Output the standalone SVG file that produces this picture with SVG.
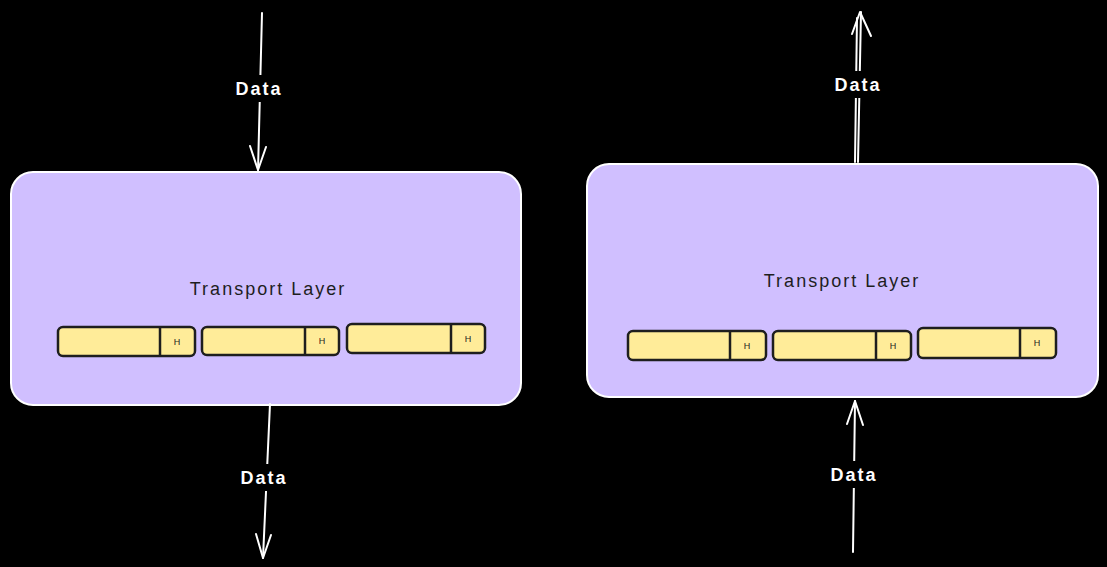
<svg xmlns="http://www.w3.org/2000/svg" width="1107" height="567" viewBox="0 0 1107 567">
<defs>
<style>
.layer{fill:#d0bfff;stroke:#ffffff;stroke-width:2}
.seg{fill:#ffec99;stroke:#1e1e1e;stroke-width:2.5}
.div{stroke:#1e1e1e;stroke-width:2.5}
.h{font-family:"Liberation Sans",sans-serif;font-size:9px;fill:#1e1e1e;text-anchor:middle}
.title{font-family:"Liberation Sans",sans-serif;font-size:18px;letter-spacing:2px;fill:#1e1e1e;text-anchor:middle}
.conn{stroke:#ffffff;stroke-width:2;fill:none;stroke-linecap:round;stroke-linejoin:round}
.lblbg{fill:#000000}
.lbl{font-family:"Liberation Sans",sans-serif;font-size:18px;font-weight:bold;letter-spacing:2px;fill:#ffffff;text-anchor:middle}
</style>
</defs>
<rect width="1107" height="567" fill="#000000"/>
<g id="layer-left">
<rect class="layer" x="11" y="172" width="510" height="233" rx="22"/>
<text class="title" x="268" y="295">Transport Layer</text>
</g>
<g id="seg-l1"><rect class="seg" x="58" y="327" width="137" height="29" rx="5"/><line class="div" x1="160" y1="327" x2="160" y2="356"/><text class="h" x="177" y="345">H</text></g>
<g id="seg-l2"><rect class="seg" x="202" y="327" width="137" height="28" rx="5"/><line class="div" x1="305" y1="327" x2="305" y2="355"/><text class="h" x="322" y="344">H</text></g>
<g id="seg-l3"><rect class="seg" x="347" y="324" width="138" height="29" rx="5"/><line class="div" x1="451" y1="324" x2="451" y2="353"/><text class="h" x="468" y="342">H</text></g>
<g id="layer-right">
<rect class="layer" x="587" y="164" width="511" height="233" rx="22"/>
<text class="title" x="842" y="287">Transport Layer</text>
</g>
<g id="seg-r1"><rect class="seg" x="628" y="331" width="138" height="29" rx="5"/><line class="div" x1="730" y1="331" x2="730" y2="360"/><text class="h" x="747" y="349">H</text></g>
<g id="seg-r2"><rect class="seg" x="773" y="331" width="138" height="29" rx="5"/><line class="div" x1="876" y1="331" x2="876" y2="360"/><text class="h" x="893" y="349">H</text></g>
<g id="seg-r3"><rect class="seg" x="918" y="328" width="138" height="30" rx="5"/><line class="div" x1="1020" y1="328" x2="1020" y2="358"/><text class="h" x="1037" y="346">H</text></g>
<g id="connectors">
<path class="conn" d="M262 13 L258 170"/>
<path class="conn" d="M250 146 L258 170 L266 147"/>
<path class="conn" d="M270 404 L263 558"/>
<path class="conn" d="M256 534 L263 558 L271 535"/>
<path class="conn" d="M858 162 L861 12 M855 162 L857 18"/>
<path class="conn" d="M852 34 L860 12 L871 36"/>
<path class="conn" d="M853 552 L855 401"/>
<path class="conn" d="M847 424 L855 401 L863 425"/>
<rect class="lblbg" x="229" y="75" width="60" height="27"/>
<text class="lbl" x="259" y="95">Data</text>
<rect class="lblbg" x="234" y="464" width="60" height="27"/>
<text class="lbl" x="264" y="484">Data</text>
<rect class="lblbg" x="828" y="71" width="60" height="27"/>
<text class="lbl" x="858" y="91">Data</text>
<rect class="lblbg" x="824" y="461" width="60" height="27"/>
<text class="lbl" x="854" y="481">Data</text>
</g>
</svg>
